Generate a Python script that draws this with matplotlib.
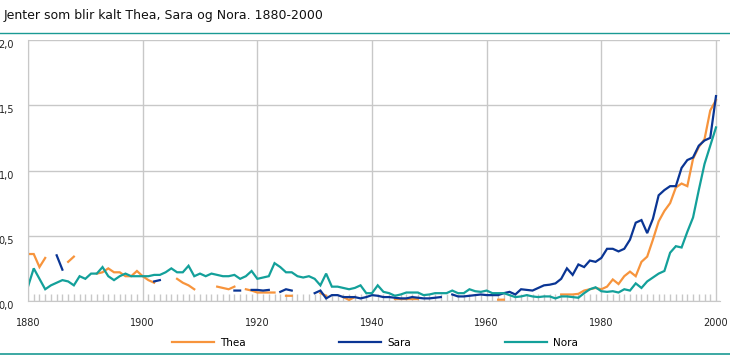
import numpy as np
import matplotlib
matplotlib.use("Agg")
import matplotlib.pyplot as plt
from matplotlib.lines import Line2D

nan = np.nan
years = list(range(1880, 2001))

thea = [0.36, 0.36, 0.26, 0.33, nan, nan, nan, 0.30, 0.34, nan,
        nan, nan, 0.21, 0.22, 0.25, 0.22, 0.22, 0.19, 0.19, 0.23,
        0.19, 0.16, 0.14, nan, nan, nan, 0.17, 0.14, 0.12, 0.09,
        nan, nan, nan, 0.11, 0.10, 0.09, 0.11, nan, 0.09, 0.08,
        0.065, 0.065, 0.065, 0.065, nan, 0.04, 0.04, nan, nan, nan,
        nan, 0.06, 0.04, nan, nan, 0.03, 0.008, 0.03, nan, nan,
        nan, nan, nan, nan, 0.015, 0.015, 0.015, 0.015, 0.015, nan,
        nan, nan, nan, nan, nan, nan, nan, nan, nan, nan,
        nan, nan, 0.01, 0.01, nan, nan, nan, nan, nan, nan,
        nan, nan, nan, 0.05, 0.05, 0.05, 0.055, 0.08, 0.09, 0.10,
        0.09, 0.11, 0.165, 0.13, 0.19, 0.225, 0.19, 0.30, 0.34, 0.47,
        0.61, 0.69, 0.75, 0.87, 0.90, 0.88, 1.09, 1.18, 1.24, 1.46,
        1.54]

sara = [nan, nan, nan, nan, nan, 0.35, 0.24, nan, nan, nan,
        nan, nan, nan, nan, nan, nan, nan, nan, nan, nan,
        nan, nan, 0.15, 0.16, nan, nan, nan, nan, nan, nan,
        nan, nan, nan, nan, nan, nan, 0.08, 0.08, nan, 0.085,
        0.085, 0.08, 0.085, nan, 0.07, 0.09, 0.08, nan, nan, nan,
        0.06, 0.08, 0.02, 0.045, 0.045, 0.03, 0.03, 0.03, 0.02, 0.03,
        0.045, 0.04, 0.03, 0.03, 0.025, 0.02, 0.02, 0.03, 0.025, 0.02,
        0.02, 0.025, 0.03, nan, 0.05, 0.035, 0.035, 0.04, 0.045, 0.05,
        0.045, 0.045, 0.045, 0.06, 0.07, 0.05, 0.09, 0.085, 0.08, 0.10,
        0.12, 0.125, 0.135, 0.17, 0.25, 0.20, 0.28, 0.26, 0.31, 0.30,
        0.33, 0.40, 0.40, 0.38, 0.40, 0.47, 0.60, 0.62, 0.52, 0.63,
        0.81, 0.85, 0.88, 0.88, 1.02, 1.08, 1.10, 1.19, 1.23, 1.25,
        1.57]

nora = [0.11, 0.25, 0.17, 0.09, 0.12, 0.14, 0.16, 0.15, 0.12, 0.19,
        0.17, 0.21, 0.21, 0.26, 0.19, 0.16, 0.19, 0.21, 0.19, 0.19,
        0.19, 0.19, 0.20, 0.20, 0.22, 0.25, 0.22, 0.22, 0.27, 0.19,
        0.21, 0.19, 0.21, 0.20, 0.19, 0.19, 0.20, 0.17, 0.19, 0.23,
        0.17, 0.18, 0.19, 0.29, 0.26, 0.22, 0.22, 0.19, 0.18, 0.19,
        0.17, 0.12, 0.21, 0.11, 0.11, 0.10, 0.09, 0.10, 0.12, 0.06,
        0.06, 0.12, 0.07, 0.06, 0.04, 0.05, 0.065, 0.065, 0.065, 0.045,
        0.05, 0.06, 0.06, 0.06, 0.08, 0.06, 0.06, 0.09, 0.075, 0.07,
        0.08, 0.06, 0.06, 0.06, 0.045, 0.03, 0.035, 0.045, 0.035, 0.03,
        0.035, 0.035, 0.02, 0.035, 0.035, 0.03, 0.025, 0.06, 0.09, 0.105,
        0.075, 0.07, 0.075, 0.065, 0.09, 0.08, 0.135, 0.10, 0.15, 0.18,
        0.21, 0.23, 0.37, 0.42, 0.41, 0.53, 0.64, 0.85, 1.05, 1.19,
        1.33]

names = ["Thea", "Sara", "Nora"]
colors = ["#f7943c", "#0a3594", "#13a09a"]
grid_col = "#c8c8c8"
teal = "#1a9a94"

fig = plt.figure(figsize=(7.3, 3.57), dpi=100)
ax = fig.add_axes([28 / 730, 56 / 357, 692 / 730, 261 / 357])

for vals, name, col in zip([thea, sara, nora], names, colors):
    ax.plot(years, vals, color=col, lw=1.6, label=name, solid_joinstyle="miter")

ax.set_xlim(1880, 2000.7)
ax.set_ylim(0, 2.0)
ax.set_xticks(range(1880, 2001, 20))
ax.set_xticks(range(1880, 2001), minor=True)
ax.set_yticks([0, 0.5, 1.0, 1.5, 2.0])
ax.set_yticklabels(["0,0", "0,5", "1,0", "1,5", "2,0"])
ax.grid(True, which="major", color=grid_col, lw=1)
ax.set_axisbelow(True)
ax.tick_params(axis="x", which="major", length=0, pad=12, labelsize=7, colors="#222222")
ax.tick_params(axis="x", which="minor", direction="in", length=5, color=grid_col, width=1)
ax.tick_params(axis="y", length=0, pad=10, labelsize=7, colors="#222222")
for lab in ax.get_yticklabels():
    lab.set_verticalalignment("top")
for s in ["top", "right"]:
    ax.spines[s].set_visible(False)
for s in ["left", "bottom"]:
    ax.spines[s].set_color(grid_col)

fig.text(4 / 730, 1 - 15 / 357, "Jenter som blir kalt Thea, Sara og Nora. 1880-2000",
         fontsize=9, va="center", ha="left", color="#111111")
fig.add_artist(Line2D([0, 1], [1 - 33 / 357, 1 - 33 / 357], color=teal, lw=1))
fig.add_artist(Line2D([0, 1], [1 - 354 / 357, 1 - 354 / 357], color=teal, lw=1.2))

fig.legend(loc="center left", bbox_to_anchor=(168 / 730, 1 - 343 / 357), ncol=3,
           frameon=False, fontsize=7.5, handlelength=4.0, handletextpad=0.6,
           columnspacing=9.0, borderaxespad=0)

fig.savefig("out.png", dpi=100)
